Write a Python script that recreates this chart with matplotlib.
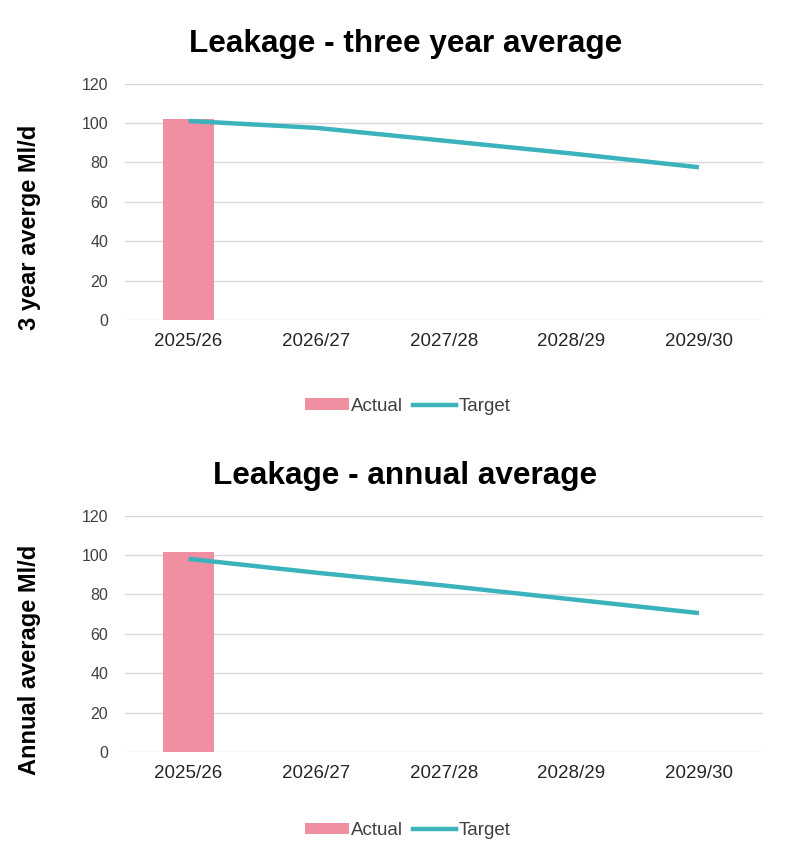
import numpy as np
import matplotlib.pyplot as plt
from matplotlib.patches import Patch
from matplotlib.lines import Line2D

plt.rcParams['font.family'] = ['Liberation Sans', 'DejaVu Sans']

years = ['2025/26', '2026/27', '2027/28', '2028/29', '2029/30']

# three year average
actual_3yr = [102]
target_3yr = [101, 97.5, 91, 84.5, 77.5]

# annual average
actual_annual = [101.5]
target_annual = [98, 91, 84.5, 77.5, 70.5]

bar_color = '#f08fa1'
line_color = '#3bb3bd'
grid_color = '#d9d9d9'
text_color = '#404040'

fig = plt.figure(figsize=(8, 8.68), dpi=100)

panels = [
    (0.6313, 'Leakage - three year average', '3 year averge Ml/d', actual_3yr, target_3yr, 0.532),
    (0.1336, 'Leakage - annual average', 'Annual average Ml/d', actual_annual, target_annual, 0.043),
]

for bottom, title, ylabel, actual, target, leg_y in panels:
    ax = fig.add_axes([0.156, bottom, 0.7975, 0.2725])
    x = np.arange(len(years))
    ax.bar(x[:len(actual)], actual, width=0.4, color=bar_color, zorder=2)
    ax.plot(x, target, color=line_color, linewidth=3.2, zorder=3,
            solid_capstyle='butt')
    ax.set_xlim(-0.5, len(years) - 0.5)
    ax.set_ylim(0, 120)
    ax.set_yticks(range(0, 121, 20))
    ax.set_xticks(x)
    ax.set_xticklabels(years, fontsize=13.5, color='#262626')
    ax.tick_params(axis='y', labelsize=11.5, colors='#404040', length=0, pad=12)
    ax.tick_params(axis='x', length=0, pad=9)
    ax.grid(axis='y', color=grid_color, linewidth=1, zorder=0)
    for s in ['top', 'right', 'left', 'bottom']:
        ax.spines[s].set_visible(False)
    ax.set_title(title, fontsize=22.7, fontweight='bold', pad=23, x=0.44)
    ax.set_ylabel(ylabel, fontsize=17, fontweight='bold')
    ax.yaxis.set_label_coords(-0.131, 0.39)

    handles = [Patch(facecolor=bar_color, label='Actual'),
               Line2D([0], [0], color=line_color, linewidth=3.2, label='Target')]
    fig.legend(handles=handles, loc='center', bbox_to_anchor=(0.51, leg_y),
               ncol=2, frameon=False, fontsize=13.5, handlelength=2.3,
               handleheight=0.55, columnspacing=0.5, handletextpad=0.15,
               labelcolor=text_color)

fig.savefig('out.png', dpi=100, facecolor='white')
